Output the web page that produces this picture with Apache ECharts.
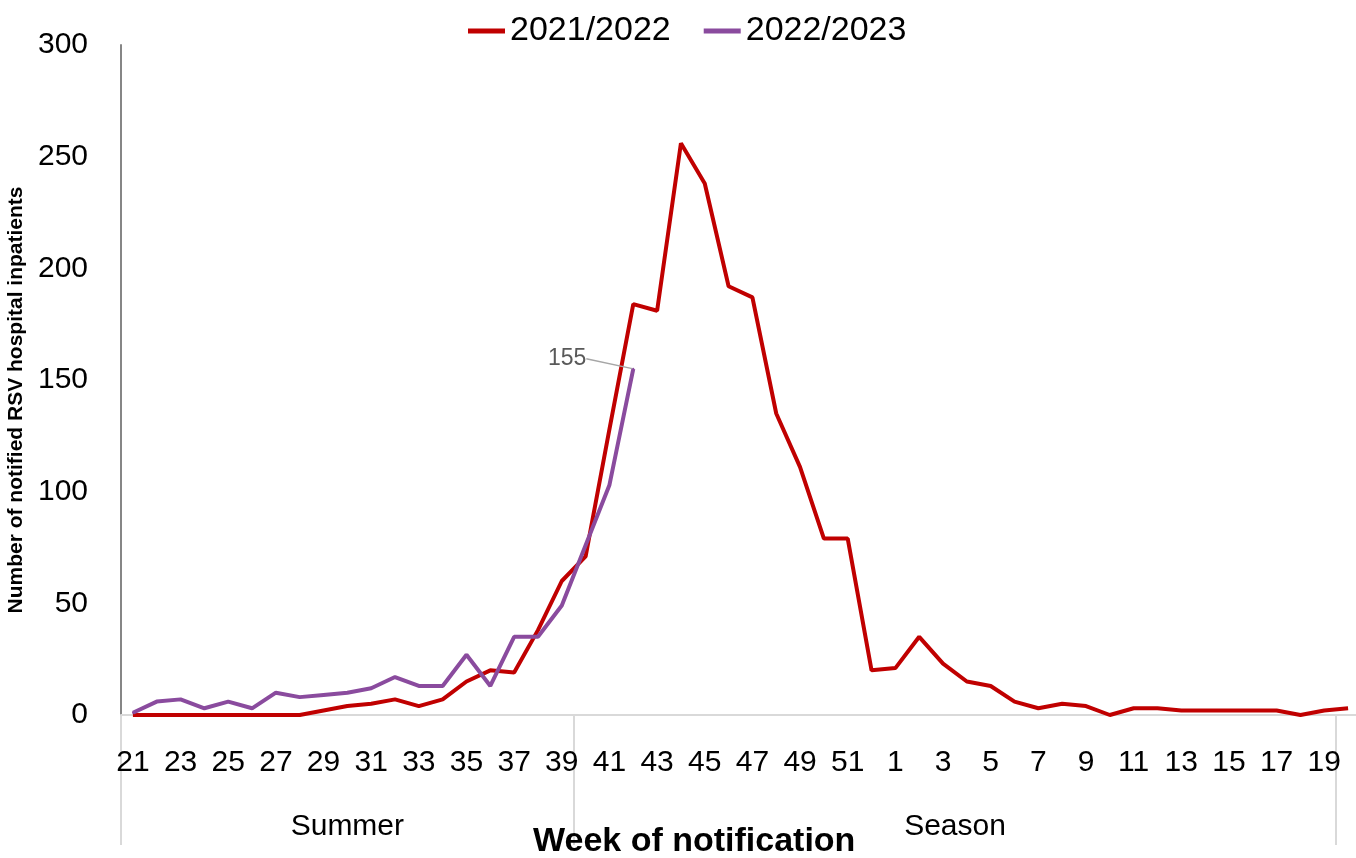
<!DOCTYPE html>
<html>
<head>
<meta charset="utf-8">
<script src="https://cdn.jsdelivr.net/npm/echarts@6/dist/echarts.min.js"></script>
<style>
  html, body { margin: 0; padding: 0; background: #fff; }
  #main { width: 1356px; height: 858px; }
</style>
</head>
<body>
<div id="main"></div>
<script>
// weeks of notification, week 21 through week 20 of the next year
var weeks = [21, 22, 23, 24, 25, 26, 27, 28, 29, 30, 31, 32, 33, 34, 35, 36,
  37, 38, 39, 40, 41, 42, 43, 44, 45, 46, 47, 48, 49, 50, 51, 52,
  1, 2, 3, 4, 5, 6, 7, 8, 9, 10, 11, 12, 13, 14, 15, 16, 17, 18, 19, 20];

var season2122 = [0, 0, 0, 0, 0, 0, 0, 0, 2, 4, 5, 7, 4, 7, 15, 20,
  19, 38, 60, 71, 128, 184, 181, 256, 238, 192, 187, 135, 111, 79, 79, 20,
  21, 35, 23, 15, 13, 6, 3, 5, 4, 0, 3, 3, 2, 2, 2, 2, 2, 0, 2, 3];

var season2223 = [1, 6, 7, 3, 6, 3, 10, 8, 9, 10, 12, 17, 13, 13, 27, 13,
  35, 35, 49, 76, 103, 155];

// groups under the week axis: name, first index, index after last
var groupNames = ["Summer", "Season"];
var groupStart = [0, 19];
var groupEnd = [19, 51];

var yTicks = [0, 50, 100, 150, 200, 250, 300];

var font = "Liberation Sans";

// second axis: group label in the middle of each group
var groupAxisData = weeks.map(function () { return ""; });
var groupBoundaries = [];
groupNames.forEach(function (name, i) {
  var mid = (groupStart[i] + groupEnd[i]) / 2; // in band-edge units
  if (mid % 1 === 0) {
    // middle is a band edge: use the band to its left, pushed half a band right
    groupAxisData[mid - 1] = { value: name, textStyle: { padding: [0, 0, 0, 24] } };
  } else {
    groupAxisData[Math.floor(mid)] = name;
  }
  groupBoundaries.push(groupStart[i], groupEnd[i]);
});

var lastIdx = season2223.length - 1;
var purpleData = season2223.map(function (v, i) {
  if (i !== lastIdx) return v;
  return {
    value: v,
    label: {
      show: true,
      position: "left",
      color: "#595959",
      fontFamily: font,
      fontSize: 23,
    },
  };
});

var chart = echarts.init(document.getElementById("main"));

var option = {
  animation: false,
  textStyle: { fontFamily: font },
  legend: {
    top: 9,
    left: 463,
    icon: "rect",
    itemWidth: 37,
    itemHeight: 5,
    itemGap: 33,
    textStyle: { fontSize: 34, color: "#000", fontFamily: font },
    data: ["2021/2022", "2022/2023"],
  },
  title: {
    text: "Week of notification",
    left: 528,
    top: 820,
    textStyle: { fontSize: 34, fontWeight: "bold", color: "#000", fontFamily: font },
  },
  grid: {
    left: 121,
    top: 45,
    width: 1239,
    height: 670,
    containLabel: false,
    outerBoundsMode: "none",
  },
  xAxis: [
    {
      type: "category",
      data: weeks,
      boundaryGap: true,
      axisLine: { lineStyle: { color: "#d9d9d9", width: 2 } },
      axisTick: { show: false },
      axisLabel: {
        interval: 1,
        margin: 33,
        fontSize: 30,
        color: "#000",
        fontFamily: font,
      },
    },
    {
      type: "category",
      data: groupAxisData,
      position: "bottom",
      boundaryGap: true,
      axisLine: { show: false },
      axisTick: {
        show: true,
        length: 130,
        interval: function (index) {
          return groupBoundaries.indexOf(index) >= 0;
        },
        lineStyle: { color: "#d9d9d9", width: 2 },
      },
      axisLabel: {
        interval: 0,
        margin: 97,
        fontSize: 30,
        color: "#000",
        fontFamily: font,
      },
    },
  ],
  yAxis: {
    type: "value",
    min: yTicks[0],
    max: yTicks[yTicks.length - 1],
    interval: yTicks[1] - yTicks[0],
    name: "Number of notified RSV hospital inpatients",
    nameLocation: "middle",
    nameGap: 88,
    nameRotate: 90,
    nameTextStyle: {
      fontSize: 21,
      fontWeight: "bold",
      color: "#000",
      fontFamily: font,
      padding: [0, 40, 0, 0],
    },
    axisLine: { show: true, lineStyle: { color: "#868686", width: 2 } },
    axisTick: { show: false },
    splitLine: { show: false },
    axisLabel: { margin: 33, fontSize: 30, color: "#000", fontFamily: font },
  },
  series: [
    {
      name: "2021/2022",
      type: "line",
      data: season2122,
      color: "#C00000",
      showSymbol: false,
      symbol: "none",
      lineStyle: { width: 4, color: "#C00000" },
    },
    {
      name: "2022/2023",
      type: "line",
      data: purpleData,
      color: "#8A4B9E",
      symbol: "circle",
      symbolSize: 2,
      showSymbol: true,
      lineStyle: { width: 4, color: "#8A4B9E" },
      labelLayout: { dx: -41, dy: -10 },
      labelLine: { show: true, lineStyle: { color: "#a6a6a6", width: 1.5 } },
    },
  ],
};

chart.setOption(option);
</script>
</body>
</html>
